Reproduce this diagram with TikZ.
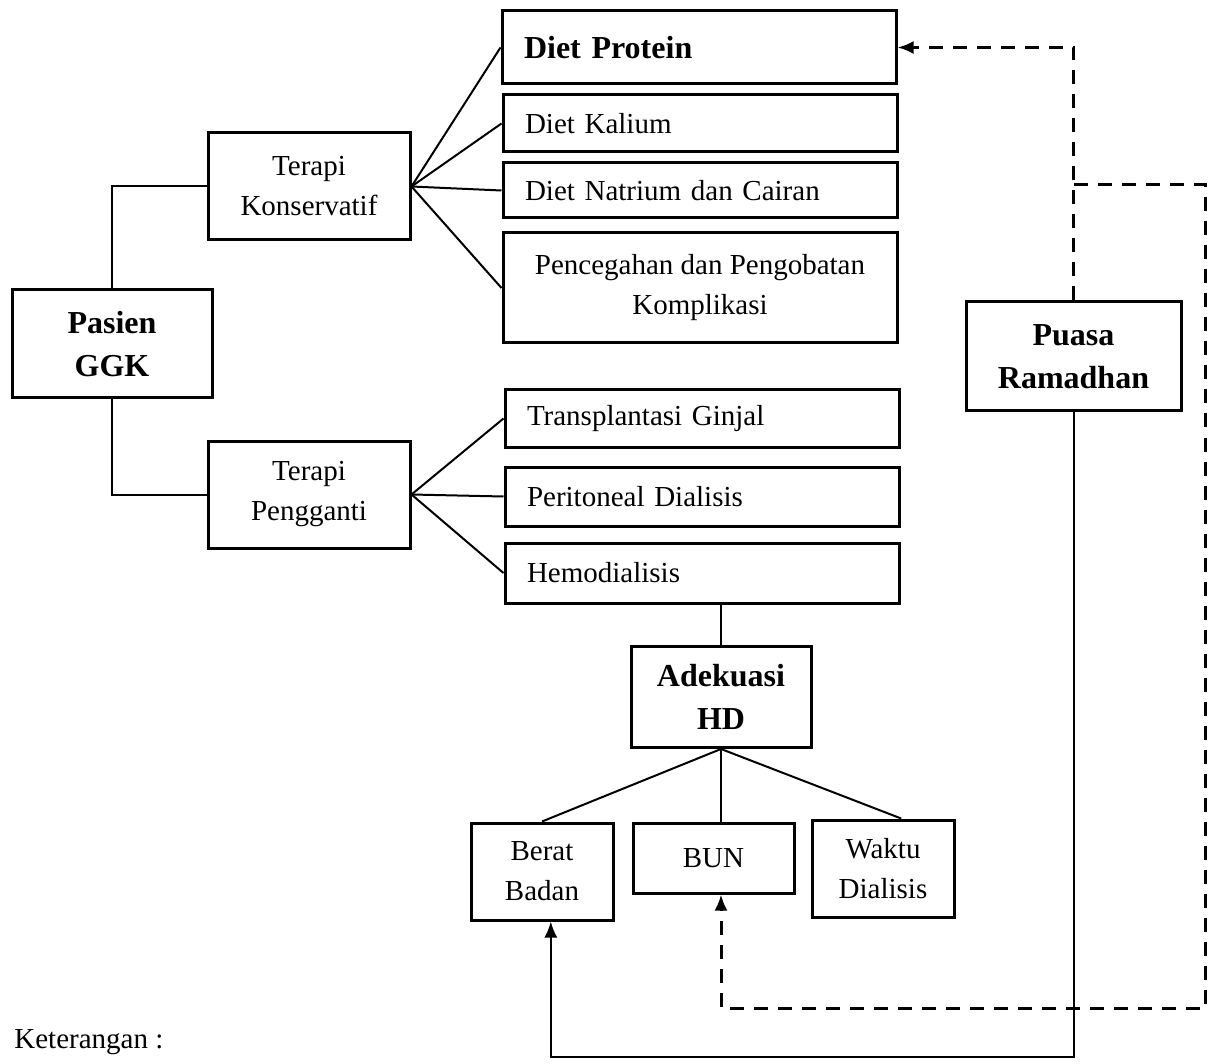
\documentclass[tikz,border=0pt]{standalone}
\usepackage{fontspec}
\setmainfont{Liberation Serif}
\usetikzlibrary{arrows.meta}

\begin{document}
\begin{tikzpicture}[x=0.5pt, y=-0.5pt, >={Latex[length=8pt,width=6.5pt]},
                    box/.style={draw, line width=1.5pt, inner sep=0pt, align=center,
                                font=\fontsize{14.5}{20}\selectfont},
                    main/.style={box, font=\fontsize{16}{21.5}\selectfont\bfseries},
                    item/.style={draw, line width=1.5pt, inner xsep=11pt, inner ysep=0pt,
                                 text width=175pt, align=left,
                                 font=\fontsize{14.5}{20}\selectfont},
                    link/.style={line width=1pt},
                    dashlink/.style={line width=1.5pt, dash pattern=on 7pt off 5pt}]
	\useasboundingbox (0,0) rectangle (1211,1064);

	\node[main, minimum width=100pt, minimum height=54pt] (pasien) at (112,344) {Pasien\\GGK};
	\node[box, minimum width=101pt, minimum height=53.5pt] (konservatif) at (309,186.5) {Terapi\\Konservatif};
	\node[box, minimum width=101pt, minimum height=53.5pt] (pengganti) at (309,494.5) {Terapi\\Pengganti};
	\node[item, font=\fontsize{16}{21.5}\selectfont\bfseries, minimum height=36.5pt] (protein) at (699,47.5) {Diet Protein};
	\node[item, minimum height=28.5pt] (kalium) at (700,123.5) {Diet Kalium};
	\node[item, minimum height=27.5pt] (natrium) at (700,190.5) {Diet Natrium dan Cairan};
	\node[box, minimum width=197pt, minimum height=55pt] (komplikasi) at (700,288) {Pencegahan dan Pengobatan\\Komplikasi};
	\node[item, minimum height=28.5pt] (transplantasi) at (702,418.5) {Transplantasi Ginjal};
	\node[item, minimum height=29.5pt] (peritoneal) at (702,496.5) {Peritoneal Dialisis};
	\node[item, minimum height=30pt] (hemodialisis) at (702,573) {Hemodialisis};
	\node[main, minimum width=90pt, minimum height=50.5pt] (adekuasi) at (721,697) {Adekuasi\\HD};
	\node[box, minimum width=71pt, minimum height=48.5pt] (berat) at (542,871.5) {Berat\\Badan};
	\node[box, minimum width=80.5pt, minimum height=35pt] (bun) at (713.5,858) {BUN};
	\node[box, minimum width=71pt, minimum height=48.5pt] (waktu) at (883,868.5) {Waktu\\Dialisis};
	\node[main, minimum width=107.5pt, minimum height=54.5pt] (puasa) at (1073.5,356.5) {Puasa\\Ramadhan};
	\node[anchor=west, inner sep=0pt, font=\fontsize{14.5}{20}\selectfont] (keterangan) at (14,1042) {Keterangan :};

	\coordinate (bawah) at (1073.5,1057);
	\coordinate (cabang) at (1073.5,185);
	\coordinate (kanan) at (1205,185);
	\coordinate (sudut) at (1205,1008);

	\draw[link] (pasien.north) |- (konservatif.west);
	\draw[link] (pasien.south) |- (pengganti.west);
	\foreach \t in {protein,kalium,natrium,komplikasi}
		\draw[link] (konservatif.east) -- (\t.west);
	\foreach \t in {transplantasi,peritoneal,hemodialisis}
		\draw[link] (pengganti.east) -- (\t.west);
	\draw[link] (hemodialisis.south -| adekuasi.north) -- (adekuasi.north);
	\draw[link] (adekuasi.south) -- (berat.north);
	\draw[link] (adekuasi.south) -- (adekuasi.south |- bun.north);
	\draw[link] (adekuasi.south) -- (waktu.70);
	\draw[link, ->] (puasa.south) -- (bawah) -| (berat.-80);

	\draw[dashlink, ->] (puasa.north) |- (protein.east);
	\draw[dashlink, ->] (cabang) -- (kanan) -- (sudut) -| (adekuasi.south |- bun.south);

\end{tikzpicture}
\end{document}
